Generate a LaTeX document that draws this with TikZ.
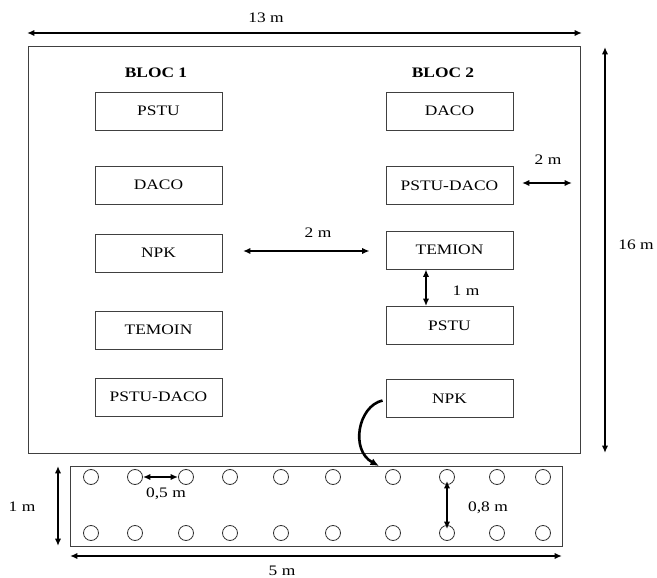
\documentclass[tikz,border=0pt]{standalone}
\usepackage{fontspec}
\setmainfont{Liberation Serif}[FakeStretch=1.2]
\usetikzlibrary{positioning,arrows.meta,calc}
\tikzset{
  treatbox/.style={
    draw=black!75,
    line width=0.9pt,
    minimum width=127pt,
    minimum height=38pt,
    inner sep=0pt,
    font=\fontsize{14.5}{16}\selectfont
  },
  blochead/.style={font=\fontsize{14.5}{16}\selectfont\bfseries},
  dimlabel/.style={font=\fontsize{14.5}{16}\selectfont},
  dimarrow/.style={{Latex[length=2.6mm,width=2.2mm]}-{Latex[length=2.6mm,width=2.2mm]},line width=2.4pt},
  plant/.style={circle,draw=black!80,line width=0.8pt,minimum size=15pt,inner sep=0pt}
}

\begin{document}
\begin{tikzpicture}[x=1pt,y=-1pt]
    \useasboundingbox (0,0) rectangle (657,578);
    % field and plot
    \node[draw=black!75,line width=1pt,minimum width=552pt,minimum height=406pt] (field) at (304,250) {};
    \node[draw=black!75,line width=1pt,minimum width=492pt,minimum height=80pt] (plot) at (316.5,506) {};
    % headings
    \node[blochead] (h1) at (156,73) {BLOC 1};
    \node[blochead] (h2) at (443,73) {BLOC 2};
    % bloc 1
    \node[treatbox] (b1pstu) at (158.5,111) {PSTU};
    \node[treatbox] (b1daco) at (158.5,185) {DACO};
    \node[treatbox] (b1npk) at (158.5,253) {NPK};
    \node[treatbox] (b1tem) at (158.5,330) {TEMOIN};
    \node[treatbox] (b1pd) at (158.5,397) {PSTU-DACO};
    % bloc 2
    \node[treatbox] (b2daco) at (449.5,111) {DACO};
    \node[treatbox] (b2pd) at (449.5,185.5) {PSTU-DACO};
    \node[treatbox] (b2tem) at (449.5,250) {TEMION};
    \node[treatbox] (b2pstu) at (449.5,325.5) {PSTU};
    \node[treatbox] (b2npk) at (449.5,398.5) {NPK};
    % plants
    \foreach \px [count=\i] in {91,135,186,230,281,333,393,447,497,543}{
      \node[plant] (c1-\i) at (\px,477) {};
      \node[plant] (c2-\i) at (\px,533) {};
    }
    % dimension ends
    \coordinate (ttl) at (27,33);
    \coordinate (ttr) at (582,33);
    \coordinate (rvt) at (605,47);
    \coordinate (rvb) at (605,453);
    \coordinate (npkgap) at (243,251);
    \coordinate (pdgap) at (522,183);
    \coordinate (r2e) at (572,183);
    \coordinate (pvt) at (58,466);
    \coordinate (pvb) at (58,546);
    \coordinate (phl) at (70,556);
    \coordinate (phr) at (562,556);
    \coordinate (cend) at (379,466);
    % dimensions
    \draw[dimarrow] (ttl) -- (ttr);
    \draw[dimarrow] (rvt) -- (rvb);
    \draw[dimarrow] (npkgap) -- ([xshift=-16pt]npkgap -| b2tem.west);
    \draw[dimarrow] (pdgap) -- (r2e);
    \draw[dimarrow] ([xshift=-23.5pt]b2tem.south) -- ([xshift=-23.5pt]b2pstu.north);
    \draw[dimarrow,line width=1.6pt] (c1-2.east) -- (c1-3.west);
    \draw[dimarrow] ([yshift=4pt]c1-8.south) -- ([yshift=-4pt]c2-8.north);
    \draw[dimarrow] (pvt) -- (pvb);
    \draw[dimarrow] (phl) -- (phr);
    \draw[-{Latex[length=3mm,width=2.6mm]},line width=2.6pt] ([xshift=-3pt,yshift=-2pt]b2npk.west) .. controls (358,406) and (350,450) .. (cend);
    % labels
    \node[dimlabel] (l13) at (266,18) {13 m};
    \node[dimlabel] (l16) at (636,245) {16 m};
    \node[dimlabel] (l2a) at (318,233) {2 m};
    \node[dimlabel] (l2b) at (548,160) {2 m};
    \node[dimlabel] (l1a) at (466,291) {1 m};
    \node[dimlabel] (l05) at (166,494) {0,5 m};
    \node[dimlabel] (l08) at (488,508) {0,8 m};
    \node[dimlabel] (l1b) at (22,507) {1 m};
    \node[dimlabel] (l5) at (282,571) {5 m};
  \end{tikzpicture}
\end{document}
